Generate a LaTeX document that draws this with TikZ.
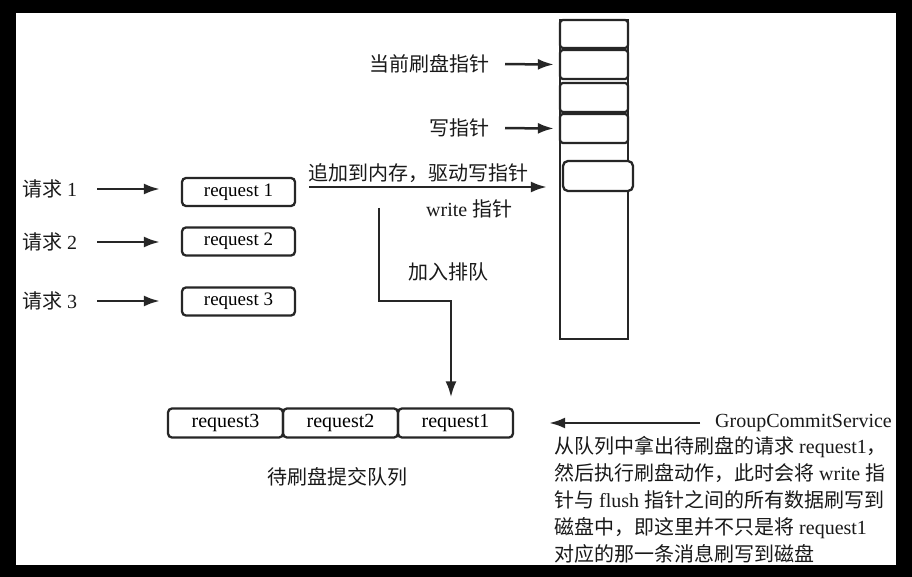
\documentclass[tikz,border=0pt]{standalone}
\usepackage{fontspec}
\setmainfont{Liberation Serif}
\newfontfamily\cjk{Noto Sans CJK SC}
\usepackage{tikz}
\usetikzlibrary{positioning, arrows.meta}

\begin{document}
\begin{tikzpicture}[x=1pt, y=-1pt,
			txt/.style={inner sep=0pt, text=black!90, font=\fontsize{20}{27}\selectfont},
			column/.style={rectangle, draw=black!85, line width=2.3pt, minimum width=68pt, minimum height=319pt, inner sep=0pt},
			cell/.style={rectangle, draw=black!85, fill=white, rounded corners=3pt, line width=2.3pt, minimum width=68pt, minimum height=29pt, inner sep=0pt},
			reqbox/.style={rectangle, draw=black!85, rounded corners=4pt, line width=2.3pt, minimum width=113pt, minimum height=28pt, inner sep=0pt, font=\fontsize{19}{22}\selectfont},
			queuebox/.style={rectangle, draw=black!85, rounded corners=4pt, line width=2.3pt, minimum width=115pt, minimum height=29pt, inner sep=0pt, font=\fontsize{20}{24}\selectfont},
			>={Latex[length=16pt, width=11pt]},
			]
			%Frame
				\useasboundingbox (0,0) rectangle (912,577);
				\fill[black] (0,0) rectangle (912,577);
				\fill[white] (16,13) rectangle (896,565);

			%Nodes
				% memory column
				\node[column]		(col)		at (594,179.5)	{};
				\node[cell, minimum height=28pt]		(cell1)		at (594,34)		{};
				\node[cell]		(cell2)		at (594,64.5)	{};
				\node[cell]		(cell3)		at (594,97.5)	{};
				\node[cell]		(cell4)		at (594,128.5)	{};
				\node[cell, minimum width=70pt, minimum height=30pt, rounded corners=5pt]		(cell5)		at (598,176)	{};
				% pointer labels
				\node[txt, anchor=east]		(flushptr)		at (490,64)		{\cjk 当前刷盘指针};
				\node[txt, anchor=east]		(writeptr)		at (490,128)	{\cjk 写指针};
				% requests
				\node[txt, anchor=west]		(ask1)		at (22,189)		{{\cjk 请求} 1};
				\node[txt, anchor=west]		(ask2)		at (22,242)		{{\cjk 请求} 2};
				\node[txt, anchor=west]		(ask3)		at (22,301)		{{\cjk 请求} 3};
				\node[reqbox]		(req1)		at (238.5,192)	{request 1};
				\node[reqbox]		(req2)		at (238.5,241.5)	{request 2};
				\node[reqbox]		(req3)		at (238.5,301.5)	{request 3};
				% flow labels
				\node[txt, anchor=west]		(appendlbl)		at (308,173)	{\cjk 追加到内存，驱动写指针};
				\node[txt, anchor=west]		(writelbl)		at (426,209)	{write {\cjk 指针}};
				\node[txt, anchor=west]		(enqlbl)		at (408,272)	{\cjk 加入排队};
				% flush queue
				\node[queuebox]		(q3)		at (225.5,423)	{request3};
				\node[queuebox]		(q2)		at (340.5,423)	{request2};
				\node[queuebox]		(q1)		at (455.5,423)	{request1};
				\node[txt]		(queuelbl)		at (337,477)	{\cjk 待刷盘提交队列};
				% service
				\node[txt, anchor=west]		(service)		at (715,423)	{GroupCommitService};
				\node[txt, anchor=north west, align=left]		(servicenote)		at (554,436)	{{\cjk 从队列中拿出待刷盘的请求} request1{\cjk ，}\\
					{\cjk 然后执行刷盘动作，此时会将} write {\cjk 指}\\
					{\cjk 针与} flush {\cjk 指针之间的所有数据刷写到}\\
					{\cjk 磁盘中，即这里并不只是将} request1\\
					{\cjk 对应的那一条消息刷写到磁盘}};
				%ghost nodes for the queue arrow
				\coordinate		(enqstart)		at (379,208);
				\coordinate		(enqbend)		at (451,301);

			%Lines
				% pointers
				\draw[line width=2.5pt, color=black!85, ->, shorten <=15pt, shorten >=5pt] (flushptr.east) -- (cell2.west);
				\draw[line width=2.5pt, color=black!85, ->, shorten <=15pt, shorten >=5pt] (writeptr.east) -- (cell4.west);
				% requests
				\draw[line width=2.5pt, color=black!85, ->, shorten <=20pt, shorten >=21pt] (ask1.east) -- (ask1.east -| req1.west);
				\draw[line width=2.5pt, color=black!85, ->, shorten <=20pt, shorten >=21pt] (ask2.east) -- (ask2.east -| req2.west);
				\draw[line width=2.5pt, color=black!85, ->, shorten <=20pt, shorten >=21pt] (ask3.east) -- (ask3.east -| req3.west);
				% append and enqueue
				\draw[line width=2.5pt, color=black!85, ->, shorten <=13pt, shorten >=15pt] ([yshift=5pt]req1.east) -- ([yshift=5pt]req1.east -| cell5.west);
				\draw[line width=2.5pt, color=black!85, ->, shorten >=10pt] (enqstart) |- (enqbend) -- (enqbend |- q1.north);
				% service
				\draw[line width=2.5pt, color=black!85, ->, shorten <=15pt, shorten >=35pt] (service.west) -- (service.west -| q1.east);
		\end{tikzpicture}
\end{document}
